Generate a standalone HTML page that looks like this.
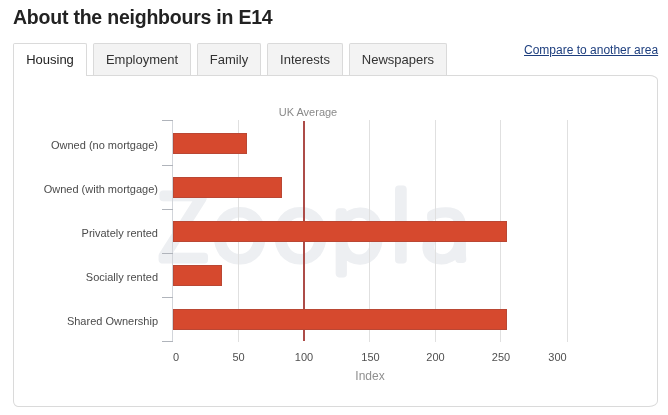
<!DOCTYPE html>
<html><head><meta charset="utf-8">
<style>
*{margin:0;padding:0;box-sizing:border-box}
html,body{width:668px;height:415px;background:#fff;overflow:hidden;font-family:"Liberation Sans",Arial,Helvetica,sans-serif}
#title{position:absolute;left:13px;top:6px;font-size:19.5px;letter-spacing:-0.22px;font-weight:bold;color:#222;line-height:22px;white-space:nowrap}
.tab{position:absolute;top:43px;height:32px;border:1px solid #dadada;border-bottom:none;border-radius:2px 2px 0 0;background:#f3f3f3;font-size:13px;color:#333;text-align:center;line-height:32px;white-space:nowrap}
.tab.active{background:#fff;height:33px;z-index:2;color:#222}
#panel{position:absolute;left:13px;top:75px;width:645px;height:332px;border:1px solid #dadada;border-radius:0 9px 9px 5px / 0 5px 6px 6px}
#cmp{position:absolute;left:524px;top:43px;font-size:12px;color:#1d3e7e;text-decoration:underline;white-space:nowrap;line-height:15px}
svg{position:absolute;left:0;top:0}
#wrap{position:absolute;left:0;top:0;width:668px;height:415px;will-change:transform}
</style></head><body>
<div id="wrap">
<div id="title">About the neighbours in E14</div>
<div id="panel"></div>
<div class="tab active" style="left:13px;width:74px">Housing</div>
<div class="tab" style="left:93px;width:98px">Employment</div>
<div class="tab" style="left:197px;width:64px">Family</div>
<div class="tab" style="left:267px;width:76px">Interests</div>
<div class="tab" style="left:349px;width:98px">Newspapers</div>
<div id="cmp">Compare to another area</div>
<svg width="668" height="415" viewBox="0 0 668 415" font-family="Liberation Sans, Arial, sans-serif">
  <!-- watermark -->
  <text x="158.25 211.5 272.35 330.8 389 420.25" y="260.5" font-family="NanumGothic, DejaVu Sans, sans-serif" font-size="92" fill="#edeff2" stroke="#edeff2" stroke-width="5" stroke-linejoin="round">Zoopla</text>
  <!-- grid lines -->
  <g stroke="#e0e0e0" stroke-width="1">
    <line x1="238.5" y1="120" x2="238.5" y2="342"/>
    <line x1="369.5" y1="120" x2="369.5" y2="342"/>
    <line x1="435.5" y1="120" x2="435.5" y2="342"/>
    <line x1="500.5" y1="120" x2="500.5" y2="342"/>
    <line x1="567.5" y1="120" x2="567.5" y2="342"/>
  </g>
  <!-- y axis + ticks -->
  <line x1="172.5" y1="120" x2="172.5" y2="342" stroke="#d2d5da" stroke-width="1"/>
  <g stroke="#b0b4bb" stroke-width="1">
    <line x1="162" y1="120.5" x2="173" y2="120.5"/>
    <line x1="162" y1="165.5" x2="173" y2="165.5"/>
    <line x1="162" y1="209.5" x2="173" y2="209.5"/>
    <line x1="162" y1="253.5" x2="173" y2="253.5"/>
    <line x1="162" y1="297.5" x2="173" y2="297.5"/>
    <line x1="162" y1="341.5" x2="173" y2="341.5"/>
  </g>
  <rect x="303" y="121" width="2" height="220" fill="#ad4c48"/>
  <!-- bars -->
  <g fill="#d6492e" stroke="#ba4734" stroke-width="1">
    <rect x="173.5" y="133.5" width="73" height="20"/>
    <rect x="173.5" y="177.5" width="108" height="20"/>
    <rect x="173.5" y="221.5" width="333" height="20"/>
    <rect x="173.5" y="265.5" width="48" height="20"/>
    <rect x="173.5" y="309.5" width="333" height="20"/>
  </g>
  <!-- UK average line -->
  <text x="308" y="116" font-size="11" fill="#8a8a8a" text-anchor="middle">UK Average</text>
  <!-- category labels -->
  <g font-size="11" fill="#4b4b4b" text-anchor="end">
    <text x="158" y="149">Owned (no mortgage)</text>
    <text x="158" y="193">Owned (with mortgage)</text>
    <text x="158" y="237">Privately rented</text>
    <text x="158" y="281">Socially rented</text>
    <text x="158" y="325">Shared Ownership</text>
  </g>
  <!-- x labels -->
  <g font-size="11" fill="#505050" text-anchor="middle">
    <text x="176" y="360.5">0</text>
    <text x="238.5" y="360.5">50</text>
    <text x="304" y="360.5">100</text>
    <text x="370.5" y="360.5">150</text>
    <text x="435.5" y="360.5">200</text>
    <text x="501" y="360.5">250</text>
    <text x="557.5" y="360.5">300</text>
  </g>
  <text x="370" y="379.5" font-size="12" fill="#909090" text-anchor="middle">Index</text>
</svg>
</div>
</body></html>
